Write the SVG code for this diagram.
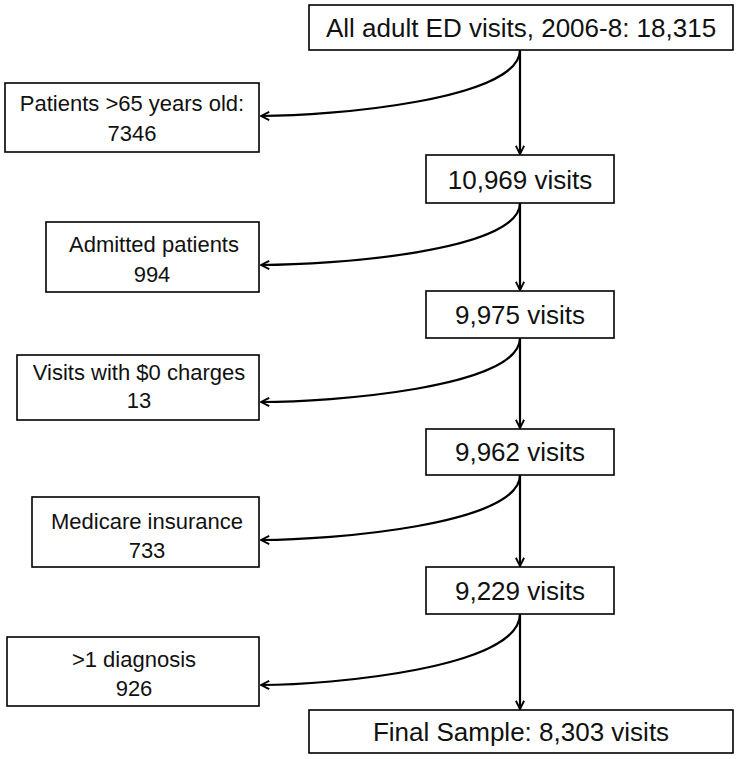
<svg xmlns="http://www.w3.org/2000/svg" width="737" height="759" viewBox="0 0 737 759">
<defs>
<marker id="arr" viewBox="0 0 12 12" refX="11" refY="6" markerWidth="11" markerHeight="11" markerUnits="userSpaceOnUse" orient="auto">
<path d="M2,1.5 L11,6 L2,10.5" fill="none" stroke="#000" stroke-width="2"/>
</marker>
<style>
rect{fill:#fff;stroke:#000;stroke-width:1.6}
text{font-family:"Liberation Sans","Open Sans",Arial,sans-serif;fill:#111;text-anchor:middle}
.m{font-size:26px}
.s{font-size:22px}
#connectors path{fill:none;stroke:#000;stroke-width:2.2;marker-end:url(#arr)}
</style>
</defs>
<rect x="0" y="0" width="737" height="759" style="fill:#fff;stroke:none"/>
<g id="connectors">
<path d="M520,50 L520,154"/>
<path d="M520,203 L520,290"/>
<path d="M520,338 L520,428"/>
<path d="M520,475 L520,566"/>
<path d="M520,614 L520,709"/>
<path d="M520,50 C520,100 330,116 261,116"/>
<path d="M520,203 C520,252 330,265 261,265"/>
<path d="M520,338 C520,388 330,402 261,402"/>
<path d="M520,475 C520,525 330,540 261,540"/>
<path d="M520,614 C520,668 330,685 261,685"/>
</g>
<g id="n-all"><rect x="309" y="5" width="424" height="45"/><text class="m" x="521" y="37">All adult ED visits, 2006-8: 18,315</text></g>
<g id="n-10969"><rect x="426" y="155" width="188" height="48"/><text class="m" x="520" y="189">10,969 visits</text></g>
<g id="n-9975"><rect x="426" y="291" width="188" height="47"/><text class="m" x="520" y="324">9,975 visits</text></g>
<g id="n-9962"><rect x="426" y="429" width="188" height="46"/><text class="m" x="520" y="461">9,962 visits</text></g>
<g id="n-9229"><rect x="426" y="567" width="188" height="47"/><text class="m" x="520" y="600">9,229 visits</text></g>
<g id="n-final"><rect x="309" y="710" width="424" height="43"/><text class="m" x="521" y="741">Final Sample: 8,303 visits</text></g>
<g id="x-65"><rect x="5" y="83" width="254" height="69"/><text class="s" x="132" y="111">Patients &gt;65 years old:</text><text class="s" x="132" y="141">7346</text></g>
<g id="x-admitted"><rect x="46" y="222" width="213" height="70"/><text class="s" x="154" y="252">Admitted patients</text><text class="s" x="152" y="282">994</text></g>
<g id="x-zero"><rect x="17" y="355" width="242" height="65"/><text class="s" x="139" y="380">Visits with $0 charges</text><text class="s" x="139" y="408">13</text></g>
<g id="x-medicare"><rect x="32" y="497" width="227" height="70"/><text class="s" x="147" y="529">Medicare insurance</text><text class="s" x="147" y="558">733</text></g>
<g id="x-diag"><rect x="7" y="637" width="252" height="69"/><text class="s" x="134" y="667">&gt;1 diagnosis</text><text class="s" x="134" y="696">926</text></g>
</svg>
